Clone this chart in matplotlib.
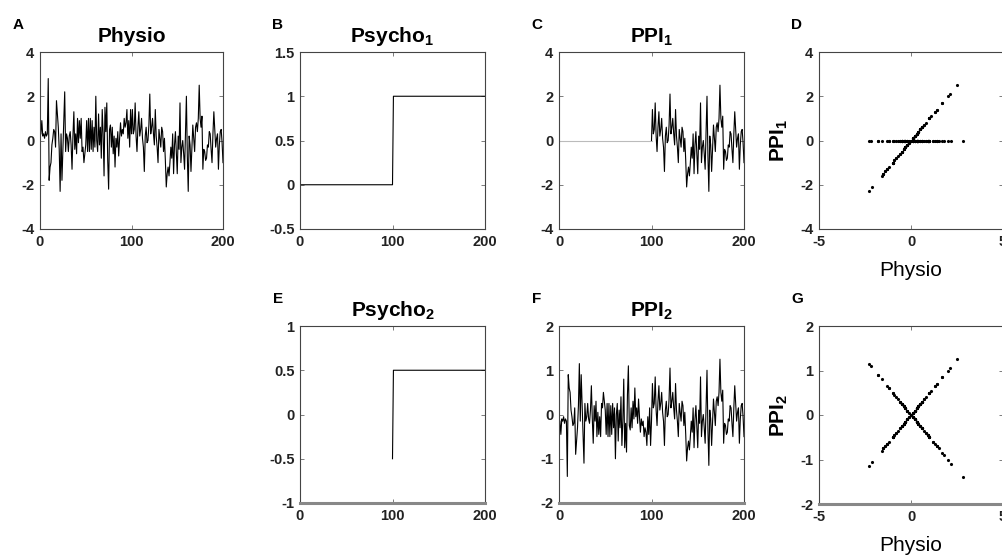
import numpy as np
import matplotlib
matplotlib.use('Agg')
import matplotlib.pyplot as plt

plt.rcParams['font.family'] = ['Liberation Sans', 'DejaVu Sans']
plt.rcParams['mathtext.fontset'] = 'custom'
plt.rcParams['mathtext.rm'] = 'Liberation Sans'
plt.rcParams['mathtext.bf'] = 'Liberation Sans:bold'
plt.rcParams['axes.unicode_minus'] = False

physio = [
    0.3, 0.9, 0.2, 0.3, 0.1, 0.4, 0.2, 0.3, 2.8, -1.8,
    -1.2, -1.0, -0.2, 0.1, 0.5, 0.4, -0.3, 1.8, 1.2, 0.6,
    -0.4, -2.3, 0.3, -1.8, -0.4, 0.9, 2.2, -0.5, 0.3, 0.1,
    -0.5, 0.2, 0.4, -0.2, -1.3, 0.2, 1.3, -0.4, 0.3, -0.6,
    1.0, -0.1, 0.9, 0.1, 1.0, -0.5, -0.3, -1.0, -0.6, -0.2,
    0.9, -0.5, 1.0, -0.5, 1.0, -0.4, 0.9, -0.5, 0.6, -0.3,
    2.0, 0.0, -0.5, 1.2, -0.2, 0.6, -0.8, 1.4, 0.3, -1.6,
    1.5, 0.4, 1.7, -0.9, -2.2, 0.5, 0.7, -0.3, 0.6, -0.6,
    0.2, -1.2, 0.1, -0.3, 0.4, -0.7, 0.1, 0.8, 0.2, 0.5,
    0.3, 1.0, 0.6, 0.8, 1.4, 0.1, 0.9, -0.3, 1.4, 0.3,
    1.4, 0.3, 0.5, 1.7, 0.2, -0.5, 0.6, 1.3, 0.2, 0.5,
    1.0, 0.1, -0.3, -1.4, 0.2, 0.6, -0.1, 0.0, 0.7, 2.1,
    0.3, 0.6, 1.0, 0.3, -0.2, 1.4, 0.2, -0.3, -1.0, 0.5,
    0.1, -0.3, 0.6, 0.4, -0.5, 0.1, -0.9, -2.1, -1.5, -1.2,
    -1.6, -1.0, -0.3, -0.8, 0.3, -1.5, -0.2, 0.4, -0.6, -1.5,
    0.2, -0.4, 1.7, -1.0, -0.3, 0.0, -0.6, -1.3, 0.4, 2.0,
    -0.7, -2.3, 0.2, -0.2, -1.4, -0.4, 0.7, 0.1, -0.5, 0.6,
    0.8, 0.4, 1.0, 2.5, 1.0, 0.6, 1.1, -1.3, -0.4, -0.5,
    -0.9, -0.8, -0.2, -0.3, 0.4, 0.3, -0.4, -1.0, 0.3, 1.3,
    0.5, -0.3, 0.1, 0.3, -1.3, -0.2, 0.4, 0.5, -0.1, -1.0,
]
# psychological regressors (block design)
psycho1 = [0] * 100 + [1] * 100
psycho2 = [-0.5] * 100 + [0.5] * 100

time = np.arange(1, 201)
physio = np.array(physio)
ppi1 = physio * np.array(psycho1)
ppi2 = physio * np.array(psycho2)

W, H = 1002, 556
fig = plt.figure(figsize=(W / 100, H / 100), dpi=100)


def px_axes(left, top, right, bottom):
    ax = fig.add_axes([left / W, 1 - bottom / H, (right - left) / W, (bottom - top) / H])
    for s in ax.spines.values():
        s.set_color('#444444')
        s.set_linewidth(0.8)
    ax.tick_params(direction='in', length=3, width=0.6, color='#666666',
                   top=True, right=True, labelsize=10.5, pad=4, labelcolor='#222222')
    return ax


def letter_at(ax, letter):
    # panel letter ~22 px left and ~27 px above the axes corner
    bb = ax.get_position()
    fig.text(bb.x0 - 22 / W, bb.y1 + 27 / H, letter, fontsize=11, fontweight='bold',
             ha='center', va='center')


def title_at(ax, title):
    ax.set_title(title, fontsize=15, fontweight='bold', pad=7)


def bold_ticks(ax):
    for lab in ax.get_xticklabels() + ax.get_yticklabels():
        lab.set_fontweight('bold')


# A - physio
axA = px_axes(40, 52, 223, 229)
axA.plot(time, physio, color='black', lw=0.8)
axA.set_xlim(0, 200)
axA.set_ylim(-4, 4)
axA.set_xticks([0, 100, 200])
axA.set_yticks([-4, -2, 0, 2, 4])
title_at(axA, 'Physio')
letter_at(axA, 'A')

# B - psycho 1
axB = px_axes(300, 52, 485, 229)
axB.plot(time, psycho1, color='black', lw=0.8)
axB.set_xlim(0, 200)
axB.set_ylim(-0.5, 1.5)
axB.set_xticks([0, 100, 200])
axB.set_yticks([-0.5, 0, 0.5, 1, 1.5])
axB.set_yticklabels(['-0.5', '0', '0.5', '1', '1.5'])
title_at(axB, r'Psycho$_\mathbf{1}$')
letter_at(axB, 'B')

# C - PPI 1
axC = px_axes(559, 52, 744, 229)
axC.plot(time[:100], ppi1[:100], color='#bbbbbb', lw=0.8)
axC.plot(time[99:], ppi1[99:], color='black', lw=0.8)
axC.set_xlim(0, 200)
axC.set_ylim(-4, 4)
axC.set_xticks([0, 100, 200])
axC.set_yticks([-4, -2, 0, 2, 4])
title_at(axC, r'PPI$_\mathbf{1}$')
letter_at(axC, 'C')

# D - PPI 1 vs physio
axD = px_axes(819, 52, 1003, 229)
axD.plot(physio, ppi1, linestyle='None', marker='.', markersize=2.5, color='black')
axD.set_xlim(-5, 5)
axD.set_ylim(-4, 4)
axD.set_xticks([-5, 0, 5])
axD.set_yticks([-4, -2, 0, 2, 4])
axD.set_xlabel('Physio', fontsize=15)
axD.set_ylabel(r'PPI$_\mathbf{1}$', fontsize=15, fontweight='bold')
axD.xaxis.set_label_coords(0.5, -32 / 177)
axD.yaxis.set_label_coords(-29 / 184, 0.5)
letter_at(axD, 'D')

# E - psycho 2
axE = px_axes(300, 326, 485, 503)
axE.plot(time[99:], psycho2[99:], color='black', lw=0.8)
axE.set_xlim(0, 200)
axE.set_ylim(-1, 1)
axE.set_xticks([0, 100, 200])
axE.set_yticks([-1, -0.5, 0, 0.5, 1])
axE.set_yticklabels(['-1', '-0.5', '0', '0.5', '1'])
title_at(axE, r'Psycho$_\mathbf{2}$')
letter_at(axE, 'E')

# F - PPI 2
axF = px_axes(559, 326, 744, 503)
axF.plot(time, ppi2, color='black', lw=0.8)
axF.set_xlim(0, 200)
axF.set_ylim(-2, 2)
axF.set_xticks([0, 100, 200])
axF.set_yticks([-2, -1, 0, 1, 2])
title_at(axF, r'PPI$_\mathbf{2}$')
letter_at(axF, 'F')

# G - PPI 2 vs physio
axG = px_axes(819, 326, 1003, 504)
axG.plot(physio, ppi2, linestyle='None', marker='.', markersize=2.5, color='black')
axG.set_xlim(-5, 5)
axG.set_ylim(-2, 2)
axG.set_xticks([-5, 0, 5])
axG.set_yticks([-2, -1, 0, 1, 2])
axG.set_xlabel('Physio', fontsize=15)
axG.set_ylabel(r'PPI$_\mathbf{2}$', fontsize=15, fontweight='bold')
axG.xaxis.set_label_coords(0.5, -32 / 178)
axG.yaxis.set_label_coords(-29 / 184, 0.5)
letter_at(axG, 'G')

# bottom row has a heavier grey bottom edge
for ax in (axE, axF, axG):
    ax.spines['bottom'].set_linewidth(2.2)
    ax.spines['bottom'].set_color('#888888')

for ax in (axA, axB, axC, axD, axE, axF, axG):
    bold_ticks(ax)

fig.savefig('out.png', dpi=100)
